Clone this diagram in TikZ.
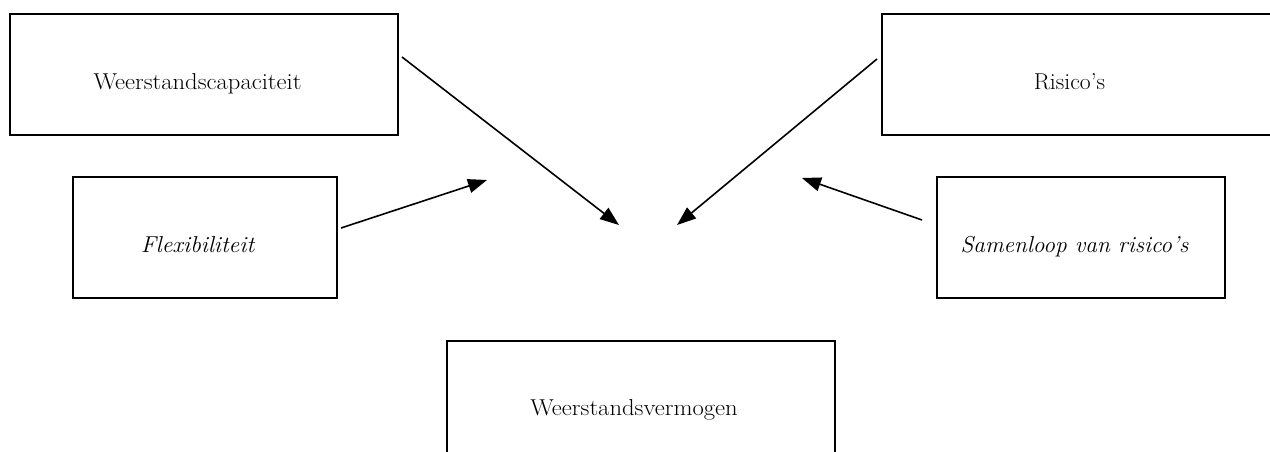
\documentclass[tikz,border=0pt]{standalone}
\usetikzlibrary{arrows.meta}
\begin{document}
\begin{tikzpicture}[x=1pt,y=-1pt,
  box/.style={draw=black,line width=2pt,minimum height=121pt,inner sep=0pt,fill=none},
  lbl/.style={anchor=base,inner sep=0pt,font=\fontsize{23}{27}\selectfont},
  arr/.style={line width=1.6pt,-{Triangle[length=19pt,width=14pt]}}]
\useasboundingbox (0,0) rectangle (1270,452);
\fill[white] (0,0) rectangle (1270,452);
\begin{scope}
\clip (0,0) rectangle (1270,452);
\node[box,minimum width=388pt] (A) at (204,74.5) {};
\node[box,minimum width=264pt] (B) at (205,237.5) {};
\node[box,minimum width=388pt] (C) at (641,401) {};
\node[box,minimum width=394pt] (D) at (1079,74.5) {};
\node[box,minimum width=288pt] (E) at (1081,237.5) {};
\end{scope}
\node[lbl] (tA) at (197.5,89) {\scalebox{1.07}[1]{Weerstandscapaciteit}};
\node[lbl] (tB) at (197.5,252) {\scalebox{1.03}[1]{\itshape Flexibiliteit}};
\node[lbl] (tC) at (634,415) {\scalebox{1.07}[1]{Weerstandsvermogen}};
\node[lbl] (tD) at (1069.5,89) {\scalebox{1.03}[1]{Risico's}};
\node[lbl] (tE) at (1074.5,252) {\scalebox{1.015}[1]{\itshape Samenloop van risico's}};
\coordinate (a1) at (402,57);
\coordinate (a1e) at (619,225);
\coordinate (a2) at (341,228);
\coordinate (a2e) at (487,180);
\coordinate (a3) at (877,59);
\coordinate (a3e) at (677,225);
\coordinate (a4) at (922,220);
\coordinate (a4e) at (802,178);
\draw[arr] (a1) -- (a1e);
\draw[arr] (a2) -- (a2e);
\draw[arr] (a3) -- (a3e);
\draw[arr] (a4) -- (a4e);
\end{tikzpicture}
\end{document}
